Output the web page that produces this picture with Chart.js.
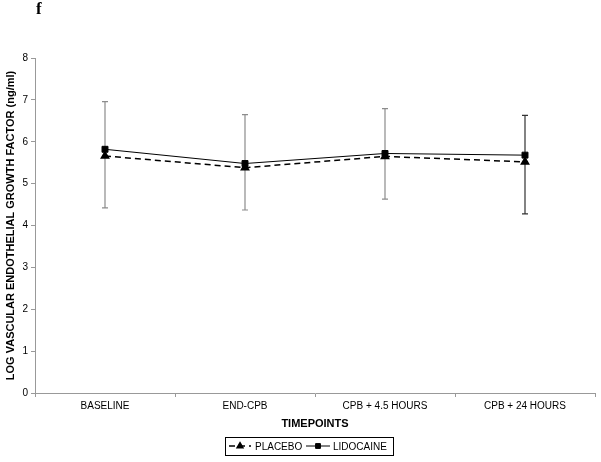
<!DOCTYPE html>
<html>
<head>
<meta charset="utf-8">
<script src="https://cdn.jsdelivr.net/npm/chart.js"></script>
<style>
body { margin: 0; background: #fff; }
#wrap { position: relative; width: 601px; height: 462px; }
#lettre { position: absolute; left: 36px; top: -1px; font: bold 17px "Liberation Serif", serif; }
</style>
</head>
<body>
<div id="wrap">
  <canvas id="myChart" width="601" height="462"></canvas>
  <div id="lettre">f</div>
</div>
<script>
// DONNEES
var labels = ["BASELINE", "END-CPB", "CPB + 4.5 HOURS", "CPB + 24 HOURS"];
var placebo = [5.66, 5.38, 5.65, 5.52];
var lidocaine = [5.82, 5.48, 5.72, 5.68];
var errHigh = [6.96, 6.65, 6.79, 6.63];
var errLow = [4.42, 4.37, 4.63, 4.28];
var yTicks = [0, 1, 2, 3, 4, 5, 6, 7, 8];

// couleur des barres d'erreur
var errColors = ["#8c8c8c", "#8c8c8c", "#8c8c8c", "#333"];

Chart.defaults.font.family = "'Liberation Sans', Arial, sans-serif";
Chart.defaults.color = "#000";

// BARRES D'ERREUR
var errorBars = {
    id: "errorBars",
    beforeDatasetsDraw: function(chart) {
        var ctx = chart.ctx;
        var sx = chart.scales.x;
        var sy = chart.scales.y;
        ctx.save();
        ctx.lineWidth = 1.2;
        for (var i = 0; i < labels.length; i++) {
            var px = sx.getPixelForValue(i);
            var top = sy.getPixelForValue(errHigh[i]);
            var bot = sy.getPixelForValue(errLow[i]);
            ctx.strokeStyle = errColors[i];
            ctx.beginPath();
            ctx.moveTo(px, top);
            ctx.lineTo(px, bot);
            ctx.moveTo(px - 3, top);
            ctx.lineTo(px + 3, top);
            ctx.moveTo(px - 3, bot);
            ctx.lineTo(px + 3, bot);
            ctx.stroke();
        }
        ctx.restore();
    }
};

// LEGENDE ENCADREE
var boxLegend = {
    id: "boxLegend",
    afterDraw: function(chart) {
        var ctx = chart.ctx;
        var x0 = 225, y0 = 437, w = 168, h = 18;
        var cy = y0 + h / 2;
        ctx.save();
        ctx.strokeStyle = "#000";
        ctx.lineWidth = 1;
        ctx.strokeRect(x0 + 0.5, y0 + 0.5, w, h);
        ctx.font = "10px 'Liberation Sans', Arial, sans-serif";
        ctx.fillStyle = "#000";
        ctx.textBaseline = "middle";

        var items = [
            { ds: chart.data.datasets[0], lx: x0 + 4, lw: 22, tx: x0 + 30 },
            { ds: chart.data.datasets[1], lx: x0 + 81, lw: 24, tx: x0 + 108 }
        ];
        items.forEach(function(it) {
            ctx.beginPath();
            ctx.setLineDash(it.ds.borderDash || []);
            ctx.lineWidth = it.ds.borderWidth;
            ctx.moveTo(it.lx, cy);
            ctx.lineTo(it.lx + it.lw, cy);
            ctx.stroke();
            ctx.setLineDash([]);
            Chart.helpers.drawPoint(ctx, {
                pointStyle: it.ds.pointStyle,
                radius: it.ds.pointRadius * 0.8,
                borderWidth: 1,
                rotation: 0
            }, it.lx + it.lw / 2, cy);
            ctx.fill();
            ctx.fillText(it.ds.label, it.tx, cy + 1);
        });
        ctx.restore();
    }
};

new Chart(document.getElementById("myChart"), {
    type: "line",
    data: {
        labels: labels,
        datasets: [{
            label: "PLACEBO",
            data: placebo,
            borderColor: "#000",
            backgroundColor: "#000",
            borderWidth: 1.5,
            borderDash: [6, 4],
            pointStyle: "triangle",
            pointRadius: 4.2,
            pointBackgroundColor: "#000",
            pointBorderColor: "#000",
            tension: 0
        }, {
            label: "LIDOCAINE",
            data: lidocaine,
            borderColor: "#000",
            backgroundColor: "#000",
            borderWidth: 1,
            pointStyle: "rect",
            pointRadius: 4.2,
            pointBackgroundColor: "#000",
            pointBorderColor: "#000",
            tension: 0
        }]
    },
    options: {
        responsive: false,
        animation: false,
        layout: { padding: { top: 58, right: 6, bottom: 29, left: 0 } },
        plugins: {
            legend: { display: false },
            tooltip: { enabled: false }
        },
        scales: {
            x: {
                offset: true,
                grid: { offset: true, drawOnChartArea: false, tickLength: 4, color: "#999" },
                border: { color: "#999" },
                ticks: { font: { size: 10 }, padding: 3, maxRotation: 0 },
                title: {
                    display: true,
                    text: "TIMEPOINTS",
                    font: { size: 11, weight: "bold" },
                    padding: { top: 2, bottom: 2 }
                },
                afterFit: function(s) { s.height = 40; }
            },
            y: {
                min: 0,
                max: 8,
                afterBuildTicks: function(s) {
                    s.ticks = yTicks.map(function(v) { return { value: v }; });
                },
                grid: { drawOnChartArea: false, tickLength: 4, color: "#999" },
                border: { color: "#999" },
                ticks: { font: { size: 10 }, padding: 3 },
                title: {
                    display: true,
                    text: "LOG VASCULAR ENDOTHELIAL GROWTH FACTOR (ng/ml)",
                    font: { size: 11, weight: "bold" },
                    padding: { top: 4, bottom: 0 }
                },
                afterFit: function(s) { s.width = 35; }
            }
        }
    },
    plugins: [errorBars, boxLegend]
});
</script>
</body>
</html>
